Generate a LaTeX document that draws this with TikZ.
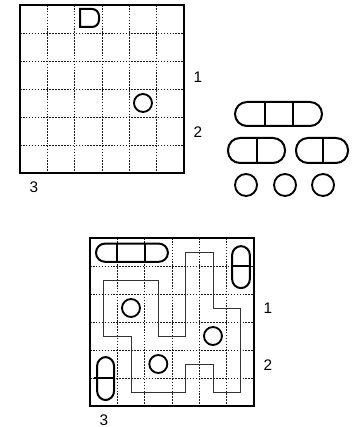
\documentclass[tikz,border=0pt]{standalone}
\usepackage{fontspec}
\setmainfont{Liberation Sans}
\usetikzlibrary{positioning}
\tikzset{
  gridline/.style={line width=0.6pt, dash pattern=on 1.2pt off 1pt, black!90},
  frame/.style={line width=2.2pt},
  piece/.style={line width=1.5pt, rounded corners=6.75pt},
  widepiece/.style={line width=1.5pt, rounded corners=9pt},
  divider/.style={line width=1.5pt},
  ring/.style={circle, draw, line width=1.4pt, minimum size=13.5pt, inner sep=0pt},
  bigring/.style={ring, minimum size=16.5pt},
  loopline/.style={line width=0.7pt, black!80},
  numlab/.style={font=\fontsize{11.5}{13}\selectfont, inner sep=0pt}
}

\begin{document}
\begin{tikzpicture}[x=0.75pt, y=-0.75pt]
  \useasboundingbox (0,0) rectangle (357,427);
  % puzzle grid
  \begin{scope}[shift={(20,5)}, xscale=27.33, yscale=28]
    \foreach \k in {1,...,5} {
      \draw[gridline] (\k,0) -- (\k,6);
      \draw[gridline] (0,\k) -- (6,\k);
    }
    \draw[frame] (0,0) rectangle (6,6);
    \node[ring] (hint) at (4.5,3.5) {};
  \end{scope}
  \draw[line width=1.5pt] (80,9) -- (92,9) arc[start angle=-90, end angle=0, radius=7]
    -- (99,20) arc[start angle=0, end angle=90, radius=7] -- (80,27) -- cycle;
  \node[numlab] (topone) at (198,77) {1};
  \node[numlab] (toptwo) at (198,132) {2};
  \node[numlab] (topthree) at (34,187) {3};

  % pieces to place
  \draw[widepiece] (235,102) rectangle (322,126);
  \draw[divider] (265,102) -- (265,126);
  \draw[divider] (293,102) -- (293,126);
  \draw[widepiece] (228,138) rectangle (285,163);
  \draw[divider] (257,138) -- (257,163);
  \draw[widepiece] (296,138) rectangle (348,163);
  \draw[divider] (323,138) -- (323,163);
  \node[bigring] (pillA) at (246,185) {};
  \node[bigring] (pillB) at (285,185) {};
  \node[bigring] (pillC) at (323,185) {};

  % solution grid
  \begin{scope}[shift={(90,238)}, xscale=27.33, yscale=28]
    \foreach \k in {1,...,5} {
      \draw[gridline] (\k,0) -- (\k,6);
      \draw[gridline] (0,\k) -- (6,\k);
    }
    \draw[frame] (0,0) rectangle (6,6);
    \draw[loopline] (0.5,1.5) -- (2.5,1.5) -- (2.5,3.5) -- (3.5,3.5) -- (3.5,0.5)
      -- (4.5,0.5) -- (4.5,2.5) -- (5.5,2.5) -- (5.5,5.5) -- (4.5,5.5) -- (4.5,4.5)
      -- (3.5,4.5) -- (3.5,5.5) -- (1.5,5.5) -- (1.5,3.5) -- (0.5,3.5) -- cycle;
    \draw[piece] (0.22,0.2) rectangle (2.85,0.85);
    \draw[divider] (1,0.2) -- (1,0.85);
    \draw[divider] (2,0.2) -- (2,0.85);
    \draw[piece] (5.2,0.29) rectangle (5.85,1.79);
    \draw[divider] (5.2,1) -- (5.85,1);
    \draw[piece] (0.26,4.25) rectangle (0.88,5.79);
    \draw[divider] (0.15,5) -- (0.88,5);
    \node[ring] (solA) at (1.5,2.5) {};
    \node[ring] (solB) at (4.5,3.5) {};
    \node[ring] (solC) at (2.5,4.5) {};
  \end{scope}
  \node[numlab] (botone) at (268,308) {1};
  \node[numlab] (bottwo) at (268,365) {2};
  \node[numlab] (botthree) at (104,420) {3};
\end{tikzpicture}
\end{document}
